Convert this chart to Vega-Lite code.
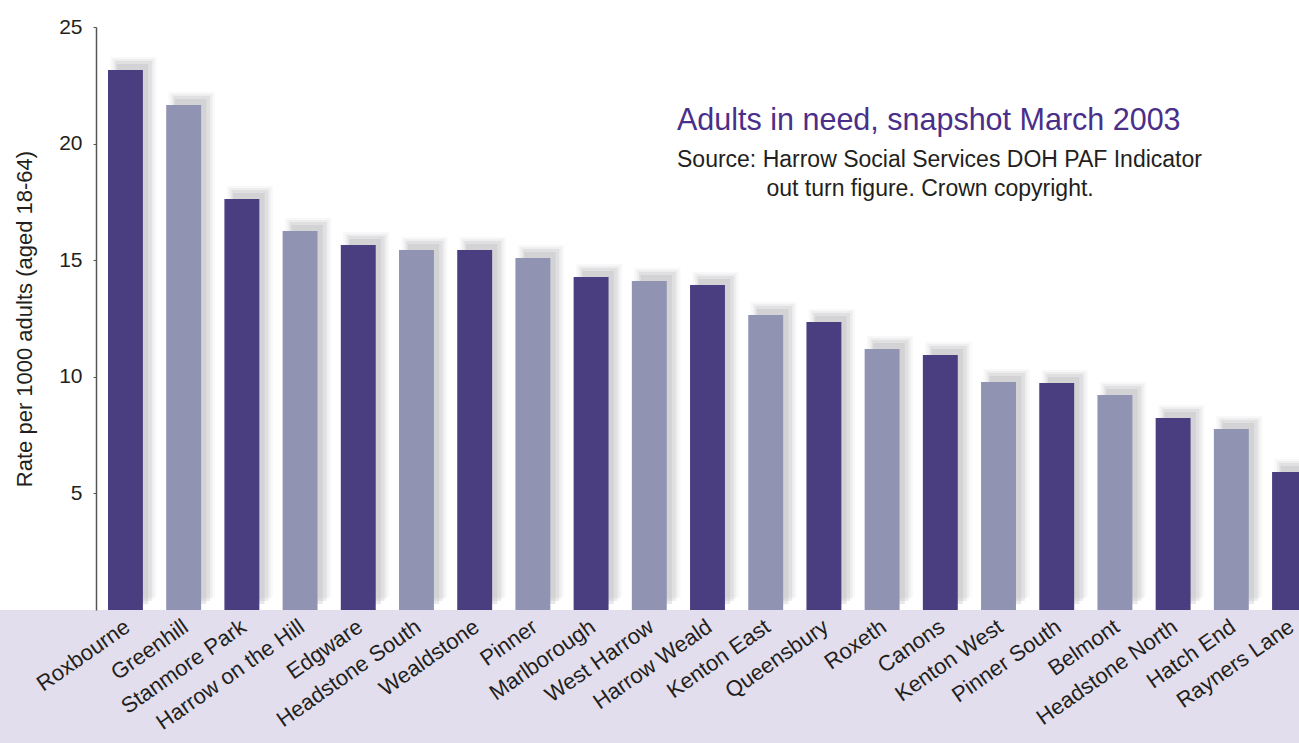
{
  "$schema": "https://vega.github.io/schema/vega-lite/v6.json",
  "width": 1299,
  "height": 610,
  "autosize": {"type": "none"},
  "padding": {"left": 0, "top": 0, "right": 0, "bottom": 133},
  "background": "#e2deee",
  "config": {"view": {"fill": "white", "stroke": null}, "font": "Liberation Sans"},
  "title": {
    "text": "Adults in need, snapshot March 2003",
    "subtitle": ["Source: Harrow Social Services DOH PAF Indicator", "\u200b\u00a0\u00a0\u00a0\u00a0\u00a0\u00a0\u00a0\u00a0\u00a0\u00a0\u00a0\u00a0\u00a0\u00a0out turn figure. Crown copyright."],
    "anchor": "start",
    "frame": "group",
    "orient": "top",
    "baseline": "top",
    "dx": 677,
    "offset": -201,
    "font": "Liberation Sans",
    "fontSize": 30.5,
    "fontWeight": "normal",
    "color": "#4a2f8a",
    "subtitleFont": "Liberation Sans",
    "subtitleFontSize": 23,
    "subtitleColor": "#231f20",
    "subtitleLineHeight": 29,
    "subtitlePadding": 13
  },
  "data": {
    "values": [
      {"district": "Roxbourne", "rate": 23.16},
      {"district": "Greenhill", "rate": 21.66},
      {"district": "Stanmore Park", "rate": 17.62},
      {"district": "Harrow on the Hill", "rate": 16.25},
      {"district": "Edgware", "rate": 15.65},
      {"district": "Headstone South", "rate": 15.44},
      {"district": "Wealdstone", "rate": 15.44},
      {"district": "Pinner", "rate": 15.09},
      {"district": "Marlborough", "rate": 14.28},
      {"district": "West Harrow", "rate": 14.11},
      {"district": "Harrow Weald", "rate": 13.94},
      {"district": "Kenton East", "rate": 12.65},
      {"district": "Queensbury", "rate": 12.35},
      {"district": "Roxeth", "rate": 11.19},
      {"district": "Canons", "rate": 10.93},
      {"district": "Kenton West", "rate": 9.78},
      {"district": "Pinner South", "rate": 9.73},
      {"district": "Belmont", "rate": 9.22},
      {"district": "Headstone North", "rate": 8.23},
      {"district": "Hatch End", "rate": 7.76},
      {"district": "Rayners Lane", "rate": 5.92}
    ]
  },
  "transform": [{"window": [{"op": "row_number", "as": "idx"}]}],
  "encoding": {
    "x": {
      "field": "district",
      "type": "nominal",
      "sort": null,
      "scale": {"range": [108, 1307], "paddingInner": 0.4, "paddingOuter": 0},
      "axis": {
        "title": null,
        "ticks": false,
        "domain": false,
        "labelAngle": -35,
        "labelAlign": "right",
        "labelBaseline": "middle",
        "labelOffset": 2,
        "labelPadding": 14,
        "labelFont": "Liberation Sans",
        "labelFontSize": 22,
        "labelColor": "#231f20",
        "labelOverlap": false,
        "labelLimit": 0
      }
    },
    "y": {
      "field": "rate",
      "type": "quantitative",
      "scale": {"domain": [0, 25], "range": [610, 27], "nice": false},
      "axis": {
        "title": "Rate per 1000 adults (aged 18-64)",
        "titleFont": "Liberation Sans",
        "titleFontSize": 22,
        "titleFontWeight": "normal",
        "titleColor": "#231f20",
        "titlePadding": 22,
        "offset": -96,
        "values": [5, 10, 15, 20, 25],
        "grid": false,
        "domainColor": "#555555",
        "domainWidth": 1.5,
        "tickColor": "#555555",
        "tickSize": 3,
        "labelPadding": 11,
        "labelFont": "Liberation Sans",
        "labelFontSize": 21,
        "labelColor": "#231f20"
      }
    }
  },
  "layer": [
    {"mark": {"type": "bar", "color": "#b8b8be", "opacity": 0.1, "width": {"band": 1.32}, "xOffset": 8, "yOffset": -13, "y2Offset": 0}},
    {"mark": {"type": "bar", "color": "#b8b8be", "opacity": 0.16, "width": {"band": 1.18}, "xOffset": 8, "yOffset": -11, "y2Offset": 0}},
    {"mark": {"type": "bar", "color": "#b8b8be", "opacity": 0.26, "width": {"band": 1.05}, "xOffset": 8, "yOffset": -9, "y2Offset": 0}},
    {"mark": {"type": "bar", "color": "#b8b8be", "opacity": 0.32, "width": {"band": 0.9}, "xOffset": 7, "yOffset": -6, "y2Offset": 0}},
    {
      "mark": {"type": "bar"},
      "encoding": {
        "color": {"field": "idx", "type": "ordinal", "scale": {"range": ["#4b3e80", "#9094b2"]}, "legend": null}
      }
    }
  ]
}
